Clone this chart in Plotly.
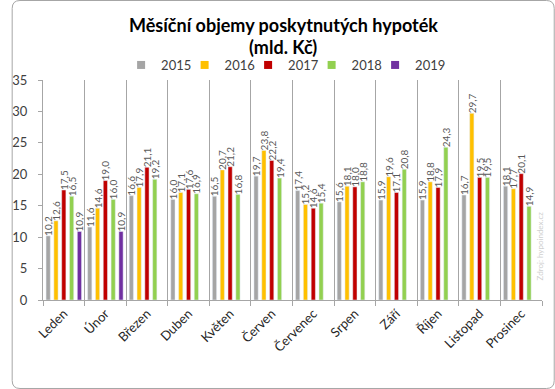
import plotly.graph_objects as go

months = ["Leden", "Únor", "Březen", "Duben", "Květen", "Červen",
          "Červenec", "Srpen", "Září", "Říjen", "Listopad", "Prosinec"]
years = ["2015", "2016", "2017", "2018", "2019"]
v2015 = [10.2, 11.6, 16.6, 16.0, 16.5, 19.7, 17.4, 15.6, 15.9, 15.9, 16.7, 18.1]
v2016 = [12.6, 14.6, 17.9, 17.1, 20.7, 23.8, 15.2, 18.1, 19.6, 18.8, 29.7, 17.7]
v2017 = [17.5, 19.0, 21.1, 17.6, 21.2, 22.2, 14.6, 18.0, 17.1, 17.9, 19.5, 20.1]
v2018 = [16.5, 16.0, 19.2, 16.9, 16.8, 19.4, 15.4, 18.8, 20.8, 24.3, 19.5, 14.9]
v2019 = [10.9, 10.9, None, None, None, None, None, None, None, None, None, None]
colors = ["#A5A5A5", "#FFC000", "#C00000", "#92D050", "#7030A0"]
title_lines = ["Měsíční objemy poskytnutých hypoték", "(mld. Kč)"]

W, H = 555, 389
L, R, T, B = 32, 13, 80, 89
pw, ph = W - L - R, H - T - B

FONT = "Lato, 'Open Sans', sans-serif"

fig = go.Figure()
for name, vals, col in zip(years, [v2015, v2016, v2017, v2018, v2019], colors):
    fig.add_trace(go.Bar(
        x=months, y=vals, name=name, marker_color=col, showlegend=False,
        legendgroup=name,
        texttemplate="%{y:.1f}", textposition="outside", textangle=-90,
        textfont=dict(size=10, color="#595959", family=FONT),
        constraintext="none", cliponaxis=False,
    ))
# legend entries with small square markers
for i, (name, col) in enumerate(zip(years, colors)):
    fig.add_trace(go.Scatter(
        x=[None], y=[None], mode="markers", name=name, legendgroup=name,
        marker=dict(symbol="square", size=8, color=col),
        legendwidth=34 if i == len(years) - 1 else None,
    ))

def px2x(px):
    return (px - L) / pw

def py2y(py):
    return (H - B - py) / ph

annotations = [
    dict(text=f"<b>{title_lines[0]}</b>", xref="paper", yref="paper",
         x=px2x(W / 2), y=py2y(25), xanchor="center", yanchor="middle", showarrow=False,
         font=dict(size=18, color="#000000", family=FONT)),
    dict(text=f"<b>{title_lines[1]}</b>", xref="paper", yref="paper",
         x=px2x(W / 2), y=py2y(47), xanchor="center", yanchor="middle", showarrow=False,
         font=dict(size=18, color="#000000", family=FONT)),
    dict(text="Zdroj: hypoindex.cz", xref="paper", yref="paper",
         x=px2x(547), y=py2y(282), textangle=-90, showarrow=False,
         font=dict(size=8, color="#D0D0D0", family=FONT)),
]

# rounded border
x0, x1, y0, y1 = px2x(0.5), px2x(554.5), py2y(388.5), py2y(0.5)
rx, ry = 8 / pw, 8 / ph
path = (f"M {x0+rx:.5f},{y1:.5f} L {x1-rx:.5f},{y1:.5f} Q {x1:.5f},{y1:.5f} {x1:.5f},{y1-ry:.5f} "
        f"L {x1:.5f},{y0+ry:.5f} Q {x1:.5f},{y0:.5f} {x1-rx:.5f},{y0:.5f} L {x0+rx:.5f},{y0:.5f} "
        f"Q {x0:.5f},{y0:.5f} {x0:.5f},{y0+ry:.5f} L {x0:.5f},{y1-ry:.5f} Q {x0:.5f},{y1:.5f} {x0+rx:.5f},{y1:.5f} Z")

fig.update_layout(
    width=W, height=H,
    margin=dict(l=L, r=R, t=T, b=B),
    paper_bgcolor="white", plot_bgcolor="white",
    separators=", ",
    barmode="group", bargap=0.06, bargroupgap=0.46,
    font=dict(family=FONT, color="#404040"),
    legend=dict(orientation="h", x=px2x(282), xanchor="center", y=py2y(65), yanchor="middle",
                font=dict(size=13, color="#404040", family=FONT),
                itemwidth=30, tracegroupgap=0, entrywidth=18.5, entrywidthmode="pixels",
                bgcolor="rgba(0,0,0,0)"),
    xaxis=dict(tickson="boundaries", showgrid=True, gridcolor="#A6A6A6", gridwidth=1,
               showline=True, linecolor="#A6A6A6", ticks="outside", ticklen=5,
               tickcolor="#A6A6A6", tickangle=-45,
               tickfont=dict(size=13, color="#262626", family=FONT), mirror=False),
    yaxis=dict(range=[0, 35], dtick=5, showgrid=False, showline=True,
               linecolor="#A6A6A6", ticks="outside", ticklen=4, tickcolor="#A6A6A6",
               ticklabelstandoff=8,
               tickfont=dict(size=13, color="#404040", family=FONT), zeroline=False),
    shapes=[dict(type="path", path=path, xref="paper", yref="paper",
                 line=dict(color="#A6A6A6", width=1), layer="above")],
    annotations=annotations,
)

fig.write_html("out.html", post_script="document.body.style.margin='0';",
               config={"displayModeBar": False})
